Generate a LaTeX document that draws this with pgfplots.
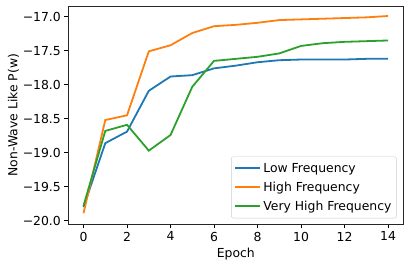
\documentclass[border=0pt]{standalone}
\usepackage{fontspec}
\setmainfont{DejaVu Sans}
\usepackage{pgfplots}
\pgfplotsset{compat=1.18}
\definecolor{tabblue}{HTML}{1F77B4}
\definecolor{taborange}{HTML}{FF7F0E}
\definecolor{tabgreen}{HTML}{2CA02C}
\definecolor{legedge}{HTML}{CCCCCC}
\newcommand{\mpl}{\fontsize{12.4pt}{14pt}\selectfont}
\begin{document}
\begin{tikzpicture}
\begin{axis}[
  scale only axis,
  width=335pt, height=218.3pt,
  xmin=-0.7, xmax=14.7,
  ymin=-20.053, ymax=-16.843,
  xtick={0,2,...,14},
  ytick={-20,-19.5,-19,-18.5,-18,-17.5,-17},
  yticklabels={−20.0,−19.5,−19.0,−18.5,−18.0,−17.5,−17.0},
  xticklabels={0,2,4,6,8,10,12,14},
  tick align=outside,
  major tick length=4pt,
  xtick pos=bottom, ytick pos=left,
  tick style={black, line width=0.9pt},
  axis line style={line width=0.9pt, black!85},
  tick label style={font=\mpl},
  label style={font=\mpl},
  xlabel={Epoch},
  ylabel={Non-Wave Like P(w)},
  xlabel style={at={(axis description cs:0.5,-0.137)}, anchor=center},
  ylabel style={at={(axis description cs:-0.164,0.5)}, anchor=center},
  legend style={font=\mpl, at={(0.98,0.0275)}, anchor=south east,
    draw=legedge, rounded corners=2pt, fill=white, fill opacity=0.8, text opacity=1,
    inner xsep=3pt, inner ysep=2.5pt, row sep=0pt,
    nodes={inner xsep=2pt, inner ysep=4pt}},
  legend cell align=left,
  legend image code/.code={\draw[#1, line width=2pt] (0pt,0pt) -- (25pt,0pt);},
  every axis plot/.append style={line width=1.8pt},
]
\addplot[tabblue] coordinates {(0,-19.80)(1,-18.86)(2,-18.69)(3,-18.09)(4,-17.88)(5,-17.86)(6,-17.76)(7,-17.72)(8,-17.67)(9,-17.64)(10,-17.63)(11,-17.63)(12,-17.63)(13,-17.62)(14,-17.62)};
\addlegendentry{Low Frequency}
\addplot[taborange] coordinates {(0,-19.89)(1,-18.52)(2,-18.45)(3,-17.51)(4,-17.42)(5,-17.24)(6,-17.14)(7,-17.12)(8,-17.09)(9,-17.05)(10,-17.04)(11,-17.03)(12,-17.02)(13,-17.01)(14,-16.99)};
\addlegendentry{High Frequency}
\addplot[tabgreen] coordinates {(0,-19.78)(1,-18.68)(2,-18.59)(3,-18.97)(4,-18.74)(5,-18.03)(6,-17.65)(7,-17.62)(8,-17.59)(9,-17.54)(10,-17.43)(11,-17.39)(12,-17.37)(13,-17.36)(14,-17.35)};
\addlegendentry{Very High Frequency}
\end{axis}
\pgfresetboundingbox
\path ([shift={(-68.3pt,-43.7pt)}]current axis.south west) rectangle ([shift={(5.7pt,6pt)}]current axis.north east);
\end{tikzpicture}
\end{document}
